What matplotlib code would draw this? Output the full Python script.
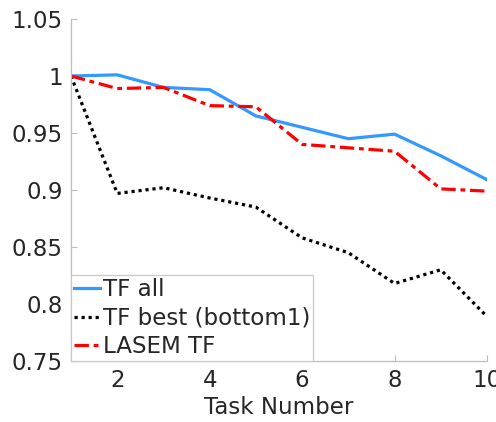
import matplotlib
matplotlib.use("Agg")
import matplotlib.pyplot as plt

# values
tasks = [1, 2, 3, 4, 5, 6, 7, 8, 9, 10]
tf_all = [1.000, 1.001, 0.990, 0.988, 0.965, 0.955, 0.945, 0.949, 0.930, 0.909]
tf_best = [1.000, 0.897, 0.902, 0.893, 0.885, 0.858, 0.845, 0.818, 0.830, 0.789]
lasem_tf = [1.000, 0.989, 0.990, 0.974, 0.973, 0.940, 0.937, 0.934, 0.901, 0.899]

yticks = [0.75, 0.8, 0.85, 0.9, 0.95, 1, 1.05]
yticklabels = ["0.75", "0.8", "0.85", "0.9", "0.95", "1", "1.05"]
xticks = [2, 4, 6, 8, 10]

plt.rcParams.update({
	'font.family': 'DejaVu Sans',
	'font.size': 16.5,
	'text.color': '#262626',
	'xtick.color': '#bdbdbd',
	'ytick.color': '#bdbdbd',
	'xtick.labelcolor': '#262626',
	'ytick.labelcolor': '#262626',
})

fig = plt.figure(figsize=(4.96, 4.22), dpi=100)
ax = fig.add_axes([71/496, 61/422, 416/496, 342/422])

ax.plot(tasks, tf_all, color="#3399ff", lw=2.3, label="TF all")
ax.plot(tasks, tf_best, color="black", lw=2.3, linestyle=(0, (1, 1.2)), label="TF best (bottom1)")
ax.plot(tasks, lasem_tf, color="#ff0000", lw=2.3, linestyle=(0, (4.5, 1.5, 1.5, 1.5)), label="LASEM TF")

ax.set_xlim(1, 10)
ax.set_ylim(0.75, 1.05)
ax.set_xticks(xticks)
ax.set_yticks(yticks)
ax.set_yticklabels(yticklabels)
ax.tick_params(direction="in", length=4, width=0.8, pad=6)
ax.set_xlabel("Task Number", labelpad=3, color="#262626")

for s in ["top", "right"]:
	ax.spines[s].set_visible(False)
for s in ["left", "bottom"]:
	ax.spines[s].set_color("#bdbdbd")
	ax.spines[s].set_linewidth(0.9)

leg = ax.legend(loc="lower left", bbox_to_anchor=(0, 0), borderaxespad=0,
	fancybox=False, edgecolor="#c8c8c8", framealpha=1, fontsize=16.6,
	handlelength=1.15, handletextpad=0.12, labelspacing=0.24, borderpad=0.12)
leg.get_frame().set_linewidth(0.9)

plt.savefig("out.png", dpi=100)
